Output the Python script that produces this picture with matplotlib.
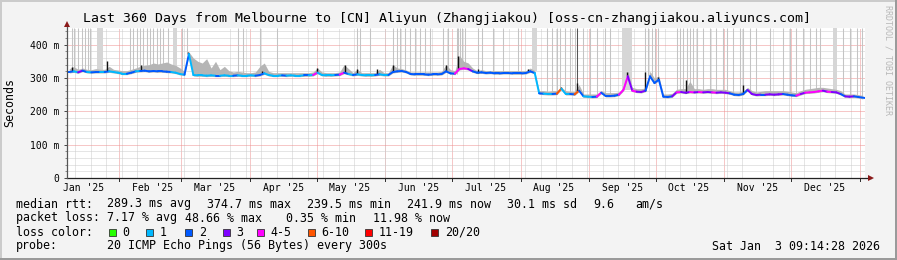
import numpy as np
import matplotlib
matplotlib.use('Agg')
import matplotlib.pyplot as plt
import matplotlib.dates as mdates
import matplotlib.transforms as mtransforms
from matplotlib.collections import LineCollection
from matplotlib.patches import Rectangle
from matplotlib.ticker import MultipleLocator, FuncFormatter
from datetime import datetime

# ---------------- data ----------------
start_time = datetime(2025, 1, 8, 9, 14, 28)
end_time = datetime(2026, 1, 3, 9, 14, 28)
bin_days = 2  # each value below covers two days

median_ms = [
    318, 320, 317, 322, 318, 317, 318, 318, 318, 320,
    318, 316, 313, 313, 316, 320, 321, 322, 320, 321,
    320, 320, 319, 318, 316, 312, 310, 372, 309, 308,
    308, 307, 308, 307, 307, 308, 307, 307, 308, 307,
    307, 308, 307, 309, 314, 309, 307, 307, 308, 307,
    308, 307, 307, 308, 308, 309, 316, 309, 308, 308,
    309, 310, 316, 312, 309, 311, 309, 308, 308, 309,
    311, 309, 309, 318, 320, 321, 318, 312, 311, 311,
    311, 310, 311, 311, 312, 320, 314, 313, 327, 329,
    327, 320, 316, 317, 315, 316, 314, 314, 315, 315,
    314, 314, 314, 315, 320, 315, 254, 253, 252, 252,
    253, 268, 252, 252, 251, 262, 245, 244, 243, 244,
    256, 246, 246, 247, 250, 264, 305, 262, 259, 258,
    262, 305, 285, 295, 244, 243, 245, 257, 258, 256,
    258, 257, 258, 257, 258, 257, 256, 257, 256, 254,
    250, 249, 252, 264, 252, 249, 250, 250, 251, 250,
    251, 252, 250, 248, 247, 252, 256, 257, 258, 260,
    262, 259, 258, 257, 252, 245, 244, 245, 243, 240,
]

loss_bin = [
    2, 2, 1, 3, 2, 1, 2, 2, 1, 2,
    1, 1, 1, 1, 2, 2, 1, 2, 2, 2,
    2, 2, 2, 2, 1, 1, 1, 2, 1, 1,
    1, 1, 1, 1, 2, 1, 1, 1, 2, 1,
    1, 1, 1, 2, 2, 1, 1, 1, 1, 2,
    1, 1, 1, 1, 2, 1, 4, 1, 1, 1,
    1, 2, 4, 2, 1, 2, 1, 1, 1, 1,
    2, 1, 1, 2, 2, 2, 2, 2, 2, 2,
    2, 2, 2, 2, 2, 2, 2, 2, 4, 4,
    4, 3, 2, 2, 2, 2, 2, 2, 2, 2,
    2, 2, 2, 2, 2, 2, 1, 2, 1, 1,
    2, 5, 1, 1, 2, 5, 2, 1, 1, 2,
    4, 2, 2, 2, 2, 4, 4, 3, 4, 3,
    3, 2, 2, 2, 2, 2, 2, 3, 4, 3,
    3, 4, 3, 4, 3, 3, 4, 3, 3, 3,
    2, 2, 2, 2, 3, 3, 3, 2, 3, 3,
    3, 3, 2, 2, 2, 4, 3, 4, 4, 4,
    4, 3, 4, 3, 3, 2, 3, 3, 2, 2,
]

smoke_hi_ms = [
    328, 334, 326, 330, 326, 325, 328, 326, 326, 335,
    326, 324, 322, 322, 326, 330, 335, 338, 340, 345,
    342, 345, 348, 342, 338, 330, 320, 378, 360, 350,
    345, 358, 330, 350, 325, 335, 322, 318, 320, 318,
    316, 316, 318, 335, 345, 320, 316, 316, 316, 316,
    316, 316, 316, 316, 316, 318, 330, 318, 316, 316,
    316, 318, 340, 328, 316, 326, 316, 316, 316, 316,
    326, 316, 316, 340, 330, 328, 324, 318, 318, 318,
    318, 318, 318, 318, 320, 340, 325, 322, 368, 350,
    345, 330, 322, 325, 322, 322, 322, 322, 322, 322,
    322, 322, 322, 322, 330, 322, 262, 262, 260, 262,
    262, 272, 262, 260, 260, 280, 252, 252, 252, 252,
    262, 256, 256, 256, 258, 272, 320, 272, 268, 268,
    270, 320, 300, 306, 252, 252, 254, 266, 268, 268,
    290, 268, 268, 266, 268, 268, 266, 266, 266, 262,
    258, 258, 260, 272, 262, 258, 260, 262, 262, 262,
    262, 262, 260, 258, 256, 262, 266, 268, 270, 272,
    272, 270, 268, 266, 262, 252, 252, 252, 250, 248,
]

spike_days = [2.3, 18, 33.4, 54.5, 88, 112.6, 125.5, 130.7, 140, 147, 171,
              176.5, 185.4, 208, 222.7, 230, 252.8, 260.8, 266.6, 279.3, 304.8]
spike_ms = [334, 352, 339, 377, 320, 329, 339, 326, 326, 339, 339,
            366, 327, 327, 272, 286, 319, 319, 304, 294, 279]

dark_tall_days = [230]

tall_days = [2.3, 3.2, 5, 6.8, 8.1, 9.5, 10.4, 28.4, 29.8, 31.6, 32.9, 34.3,
             36.1, 37.4, 38.8, 40.6, 41.9, 43.3, 45.6, 51.9, 54.1, 77.1, 79.4,
             87, 94.7, 130.8, 132.2, 136.7, 147, 148.9, 150.2, 152.5, 154.7,
             157, 159.3, 161.5, 163.8, 169.6, 171.9, 175.8, 176.6, 177.4,
             178.3, 179.5, 185.6, 187, 192.3, 196.8, 203.6, 216.4, 218.7,
             220.9, 222.4, 224.7, 226.9, 229.2, 232.9, 235.9, 239, 242.7, 245,
             260.8, 262.2, 263.8, 265.3, 266.7, 275, 276.5, 278, 279.6, 281,
             282.5, 284, 287, 290, 293, 296, 297.6, 300.6, 303.6, 305, 308,
             311, 317, 323, 326, 329, 332, 335, 338, 339.7, 350.2, 353.2,
             356.2, 358.5]
tall_blocks = [(13.5, 16.2), (47.8, 49.6), (209.6, 212.2), (250.2, 254.7),
               (345.7, 347.2)]

loss_labels = ['0', '1', '2', '3', '4-5', '6-10', '11-19', '20/20']
loss_colors = ['#26ff00', '#00b8ff', '#0059ff', '#7e00ff', '#ff00ff',
               '#ff5500', '#ff0000', '#a10000']

rtt_stats = ['289.3 ms avg', '374.7 ms max', '239.5 ms min', '241.9 ms now',
             '30.1 ms sd', '9.6', 'am/s']
loss_stats = ['7.17 % avg', '48.66 % max', '0.35 % min', '11.98 % now']
probe_text = '20 ICMP Echo Pings (56 Bytes) every 300s'
stamp_text = 'Sat Jan  3 09:14:28 2026'
title_text = ('Last 360 Days from Melbourne to [CN] Aliyun (Zhangjiakou) '
              '[oss-cn-zhangjiakou.aliyuncs.com]')

y_major = [0, 100, 200, 300, 400]

# ---------------- figure ----------------
W, H, DPI = 897, 260, 100
MONO = 'DejaVu Sans Mono'
fig = plt.figure(figsize=(W / DPI, H / DPI), dpi=DPI, facecolor='#f3f3f3')

# frame (3d shade)
fig.add_artist(plt.Line2D([0, 1], [1 - 1 / H, 1 - 1 / H], color='#cbcbcb', lw=1.44))
fig.add_artist(plt.Line2D([1 / W, 1 / W], [0, 1], color='#cbcbcb', lw=1.44))
fig.add_artist(plt.Line2D([0, 1], [1 / H, 1 / H], color='#9a9a9a', lw=1.44))
fig.add_artist(plt.Line2D([1 - 1 / W, 1 - 1 / W], [0, 1], color='#9a9a9a', lw=1.44))

ax = fig.add_axes([67 / W, 1 - 178 / H, 798 / W, 150 / H])
ax.set_facecolor('white')

t0 = mdates.date2num(start_time)
t1 = mdates.date2num(end_time)
n = len(median_ms)
med = np.array(median_ms, dtype=float)
edges = t0 + np.arange(n + 1) * bin_days
centers = edges[:-1] + bin_days / 2

ax.set_xlim(t0, t1)
ax.set_ylim(0, 450)

# grid
dot = (0, (1, 1))
ax.yaxis.set_major_locator(MultipleLocator(100))
ax.yaxis.set_minor_locator(MultipleLocator(20))
ax.xaxis.set_major_locator(mdates.MonthLocator(bymonthday=16))
ax.xaxis.set_major_formatter(mdates.DateFormatter("%b '%y"))
ax.xaxis.set_minor_locator(mdates.WeekdayLocator(byweekday=mdates.SU))
ax.grid(which='minor', axis='both', color='#cccccc', lw=0.72, ls=dot, zorder=0)
ax.grid(which='major', axis='y', color='#ee9090', lw=0.72, ls=dot, zorder=0)
ax.grid(which='major', axis='x', visible=False)
month_starts = mdates.MonthLocator(bymonthday=1).tick_values(start_time, end_time)
month_starts = [m for m in month_starts if t0 < m < t1]
trans = mtransforms.blended_transform_factory(ax.transData, ax.transAxes)
for m in month_starts:
    ax.axvline(m, color='#ee9090', lw=0.72, ls=dot, zorder=0.5)
    ax.plot([m, m], [0, -0.022], transform=trans, color='#333333', lw=0.72,
            clip_on=False, zorder=5)
ax.set_axisbelow(True)

# tall light smoke bars (beyond chart top)
for d in tall_days:
    i = int(d // bin_days)
    ax.vlines(t0 + d, med[i], 450, color='#c4c4c4', lw=0.75, zorder=1)
for a, b in tall_blocks:
    i = int(a // bin_days)
    ax.fill_between([t0 + a, t0 + b], med[i], 450, color='#d6d6d6', lw=0, zorder=1)
for d in dark_tall_days:
    i = int(d // bin_days)
    ax.vlines(t0 + d, med[i], 450, color='#555555', lw=0.75, zorder=1.5)

# smoke
ax.fill_between(centers, med - 3, smoke_hi_ms, color='#b5b5b5', lw=0, zorder=2)

# dark spikes
for d, v in zip(spike_days, spike_ms):
    i = int(d // bin_days)
    ax.vlines(t0 + d, med[i], v, color='#111111', lw=1.0, zorder=3)

# median line coloured by loss (segments between consecutive points)
segs, cols = [], []
for i in range(n):
    xa = centers[i - 1] if i > 0 else edges[0]
    ya = med[i - 1] if i > 0 else med[0]
    xb = centers[i] if i < n - 1 else edges[-1]
    segs.append([(xa, ya), (xb, med[i])])
    cols.append(loss_colors[loss_bin[i]])
ax.add_collection(LineCollection(segs, colors=cols, linewidths=1.4, zorder=4,
                                 capstyle='round'))

# axes styling
for s in ['top', 'right', 'bottom', 'left']:
    ax.spines[s].set_visible(False)
ax.plot([0, 1.0075], [0, 0], transform=ax.transAxes, color='#222222', lw=0.9,
        clip_on=False, zorder=6)
ax.plot([0, 0], [0, 1.02], transform=ax.transAxes, color='#555555', lw=0.9,
        clip_on=False, zorder=6)
ax.plot([1.008], [0], marker='>', transform=ax.transAxes, color='#8b1a1a',
        markersize=4.2, clip_on=False, zorder=7, markeredgewidth=0)
ax.plot([0], [1.03], marker='^', transform=ax.transAxes, color='#8b1a1a',
        markersize=4.2, clip_on=False, zorder=7, markeredgewidth=0)

ax.yaxis.set_major_formatter(FuncFormatter(lambda v, _: '0' if v == 0 else f'{int(v)} m'))
ax.set_yticks(y_major)
ax.tick_params(axis='y', which='major', length=2.2, width=0.7, color='#444444',
               pad=3.2, labelsize=7)
ax.tick_params(axis='y', which='minor', length=1.4, width=0.6, color='#777777')
ax.tick_params(axis='x', which='major', length=0, pad=3.6, labelsize=7)
ax.tick_params(axis='x', which='minor', length=0)
for lab in ax.get_xticklabels() + ax.get_yticklabels():
    lab.set_fontfamily(MONO)

# ---------------- texts ----------------
def ftext(x, y, s, **kw):
    kw.setdefault('fontfamily', MONO)
    kw.setdefault('fontsize', 8.4)
    kw.setdefault('va', 'center')
    kw.setdefault('ha', 'left')
    fig.text(x / W, 1 - y / H, s, **kw)

ftext(447, 18.5, title_text, fontsize=9.5, ha='center')
ftext(10, 103, 'Seconds', rotation=90, ha='center')
ftext(888, 5, 'RRDTOOL / TOBI OETIKER', rotation=270, ha='center', va='top',
      fontsize=6, color='#b8b8b8')

y1, y2, y3, y4 = 204, 218, 232, 246
ftext(16, y1, 'median rtt:')
for s, x in zip(rtt_stats, [107, 207, 306.7, 406.7, 507, 593, 635]):
    ftext(x, y1, s)
ftext(16, y2, 'packet loss:')
for s, x in zip(loss_stats, [107, 185, 286, 372.7]):
    ftext(x, y2, s)
ftext(16, y3, 'loss color:')
box_x = [108.7, 146, 185, 222.7, 256.7, 307.7, 365, 431]
for lab, col, bx in zip(loss_labels, loss_colors, box_x):
    fig.add_artist(Rectangle((bx / W, 1 - (y3 + 3.8) / H), 7 / W, 7 / H,
                             facecolor=col, edgecolor='#333333', lw=0.6))
    ftext(bx + 14, y3, lab)
ftext(16, y4, 'probe:')
ftext(107, y4, probe_text)
ftext(880, y4, stamp_text, ha='right')

fig.savefig('out.png', dpi=DPI, facecolor=fig.get_facecolor())
